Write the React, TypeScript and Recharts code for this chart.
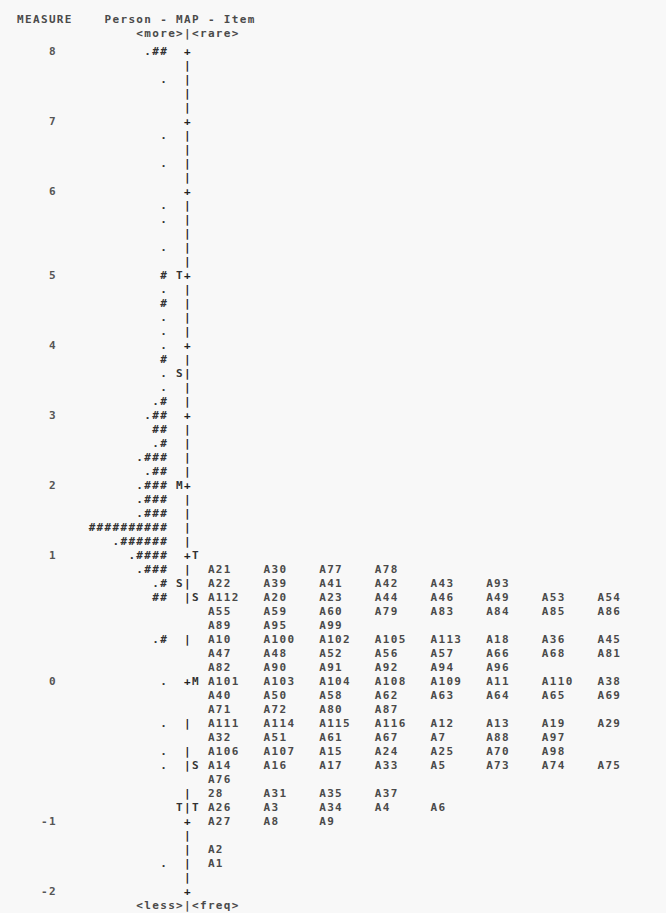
import { ScatterChart, Scatter, XAxis, YAxis } from "recharts";

// Winsteps person-item map, one entry per map row (level), top to bottom
const measureLabels = ["8", "7", "6", "5", "4", "3", "2", "1", "0", "-1", "-2"];
const measureLevels = [0, 5, 10, 16, 21, 26, 31, 36, 41, 47, 52];

const personRows = [
  ".##", "", ".", "", "", "", ".", "", ".", "",
  "", ".", ".", "", ".", "", "#", ".", "#", ".",
  ".", ".", "#", ".", ".", ".#", ".##", "##", ".#", ".###",
  ".##", ".###", ".###", ".###", "##########", ".######", ".####", ".###", ".#", "##",
  ".#", ".", ".", ".", ".", "", "", "", "", "",
  ".", "", "",
];

const personMarkLevels = [16, 23, 31, 38, 46];
const personMarks = ["T", "S", "M", "S", "T"];
const itemMarkLevels = [36, 39, 41, 44, 46];
const itemMarks = ["T", "S", "M", "S", "T"];

const itemLevels = [37, 38, 39, 40, 41, 42, 43, 44, 45, 46, 47, 49, 50];
const itemRows = [
  ["A21", "A30", "A77", "A78"],
  ["A22", "A39", "A41", "A42", "A43", "A93"],
  ["A112", "A20", "A23", "A44", "A46", "A49", "A53", "A54", "A55", "A59", "A60", "A79", "A83", "A84", "A85", "A86", "A89", "A95", "A99"],
  ["A10", "A100", "A102", "A105", "A113", "A18", "A36", "A45", "A47", "A48", "A52", "A56", "A57", "A66", "A68", "A81", "A82", "A90", "A91", "A92", "A94", "A96"],
  ["A101", "A103", "A104", "A108", "A109", "A11", "A110", "A38", "A40", "A50", "A58", "A62", "A63", "A64", "A65", "A69", "A71", "A72", "A80", "A87"],
  ["A111", "A114", "A115", "A116", "A12", "A13", "A19", "A29", "A32", "A51", "A61", "A67", "A7", "A88", "A97"],
  ["A106", "A107", "A15", "A24", "A25", "A70", "A98"],
  ["A14", "A16", "A17", "A33", "A5", "A73", "A74", "A75", "A76"],
  ["28", "A31", "A35", "A37"],
  ["A26", "A3", "A34", "A4", "A6"],
  ["A27", "A8", "A9"],
  ["A2"],
  ["A1"],
];

const PER_LINE = 8;
const COL_STEP = 7;

// each level takes as many text lines as its items need
const lineOf: number[] = [];
let ln = 0;
personRows.forEach((_, k) => {
  lineOf[k] = ln;
  const idx = itemLevels.indexOf(k);
  const n = idx >= 0 ? itemRows[idx].length : 0;
  ln += Math.max(1, Math.ceil(n / PER_LINE));
});
const lastLine = ln;

const headerCells = [
  { col: 0, line: -2.35, text: "MEASURE" },
  { col: 11, line: -2.35, text: "Person - MAP - Item" },
  { col: 15, line: -1.3, text: "<more>|<rare>" },
  { col: 15, line: lastLine, text: "<less>|<freq>" },
];

const measureCells = measureLabels.map((t, i) => ({
  col: 5 - t.length,
  line: lineOf[measureLevels[i]],
  text: t,
}));

const personCells = personRows
  .map((t, k) => ({ col: 19 - t.length, line: lineOf[k], text: t }))
  .filter((c) => c.text !== "");

const axisCells = personRows.map((_, k) => ({
  col: 21,
  line: lineOf[k],
  text: measureLevels.includes(k) ? "+" : "|",
}));

const markCells = [
  ...personMarks.map((t, i) => ({ col: 20, line: lineOf[personMarkLevels[i]], text: t })),
  ...itemMarks.map((t, i) => ({ col: 22, line: lineOf[itemMarkLevels[i]], text: t })),
];

const itemCells = itemRows.flatMap((row, i) =>
  row.map((t, j) => ({
    col: 24 + COL_STEP * (j % PER_LINE),
    line: lineOf[itemLevels[i]] + Math.floor(j / PER_LINE),
    text: t,
  }))
);

const FONT = "'DejaVu Sans Mono', monospace";

const textShape = (fill: string) => (props: any) => (
  <text
    x={props.cx}
    y={props.cy}
    fill={fill}
    fontFamily={FONT}
    fontSize={11}
    fontWeight="bold"
    letterSpacing={1.33}
    dominantBaseline="central"
    textAnchor="start"
  >
    {props.payload.text}
  </text>
);

export default function App() {
  return (
    <div style={{ position: "absolute", left: 0, top: 0, width: 666, height: 913, background: "#f8f8f8" }}>
      <ScatterChart width={666} height={913} margin={{ top: 0, right: 0, bottom: 0, left: 0 }}>
        <XAxis type="number" dataKey="col" domain={[-2.15, 81.62]} allowDataOverflow hide />
        <YAxis type="number" dataKey="line" domain={[-3.714, 61.5]} allowDataOverflow reversed hide />
        <Scatter data={headerCells} shape={textShape("#4a4a4a")} isAnimationActive={false} />
        <Scatter data={measureCells} shape={textShape("#555555")} isAnimationActive={false} />
        <Scatter data={personCells} shape={textShape("#333333")} isAnimationActive={false} />
        <Scatter data={axisCells} shape={textShape("#222222")} isAnimationActive={false} />
        <Scatter data={markCells} shape={textShape("#333333")} isAnimationActive={false} />
        <Scatter data={itemCells} shape={textShape("#4a4a4a")} isAnimationActive={false} />
      </ScatterChart>
    </div>
  );
}
